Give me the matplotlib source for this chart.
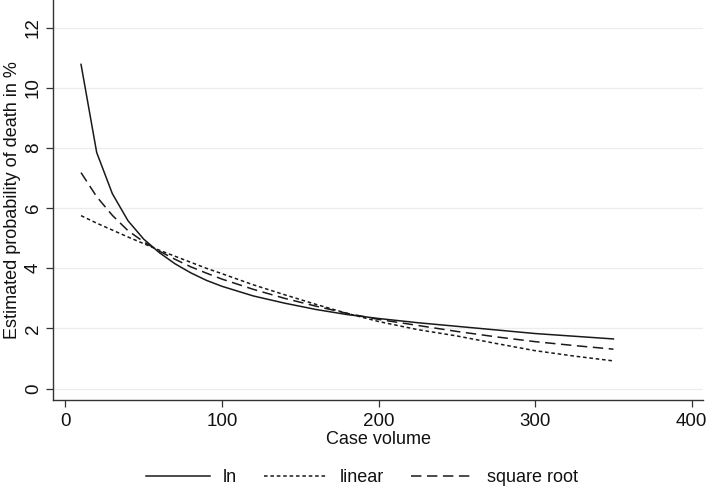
import matplotlib
matplotlib.use("Agg")
import matplotlib.pyplot as plt

# ---- data ----
case_volume = [10, 20, 30, 40, 50, 60, 70, 80, 90, 100, 120, 140, 160, 180,
               200, 225, 250, 275, 300, 325, 350]
p_ln = [10.78, 7.85, 6.48, 5.58, 4.97, 4.52, 4.15, 3.85, 3.60, 3.40, 3.08,
        2.84, 2.63, 2.46, 2.33, 2.19, 2.07, 1.95, 1.83, 1.74, 1.65]
p_linear = [5.75, 5.50, 5.27, 5.04, 4.82, 4.60, 4.40, 4.20, 4.00, 3.82, 3.45,
            3.12, 2.80, 2.50, 2.23, 1.96, 1.75, 1.50, 1.26, 1.08, 0.92]
p_sqrt = [7.18, 6.38, 5.76, 5.25, 4.88, 4.57, 4.30, 4.05, 3.84, 3.64, 3.30,
          3.00, 2.74, 2.50, 2.30, 2.10, 1.90, 1.72, 1.56, 1.43, 1.31]
series_labels = ["ln", "linear", "square root"]
x_ticks = [0, 100, 200, 300, 400]
y_ticks = [0, 2, 4, 6, 8, 10, 12]

plt.rcParams['font.family'] = ['Liberation Sans', 'DejaVu Sans']
plt.rcParams['lines.scale_dashes'] = False

fig = plt.figure(figsize=(7.09, 4.97), dpi=100)
ax = fig.add_axes([53/709, 1 - 400/497, (703-53)/709, 400/497])

line_col = '#1a1a1a'
lw = 1.1
ax.plot(case_volume, p_ln, color=line_col, lw=lw, linestyle='-', label=series_labels[0])
ax.plot(case_volume, p_linear, color=line_col, lw=lw, linestyle=(0, (2.6, 2.0)), label=series_labels[1])
ax.plot(case_volume, p_sqrt, color=line_col, lw=lw, linestyle=(0, (7.5, 4.0)), label=series_labels[2])

ax.set_xlim(-7.9, 407.2)
ax.set_ylim(-0.38, 12.92)
ax.set_xticks(x_ticks)
ax.set_yticks(y_ticks)
ax.grid(axis='y', color='#ececec', lw=0.9)
ax.set_axisbelow(True)
for s in ['top', 'right']:
    ax.spines[s].set_visible(False)
for s in ['left', 'bottom']:
    ax.spines[s].set_color('#333333')
    ax.spines[s].set_linewidth(1.0)
ax.tick_params(axis='both', direction='out', length=5, width=0.9, color='#333333',
               labelsize=13.5, labelcolor='#111111')
ax.tick_params(axis='x', pad=4)
ax.tick_params(axis='y', pad=3)
for lab in ax.get_yticklabels():
    lab.set_rotation(90)
    lab.set_verticalalignment('center')

ax.set_xlabel("Case volume", fontsize=13, color='#111111', labelpad=1)
ax.set_ylabel("Estimated probability of death in %", fontsize=13, color='#111111', labelpad=3)

leg = fig.legend(loc='center', bbox_to_anchor=(362/709, 1 - 478/497), ncol=3,
                 frameon=False, fontsize=13, handlelength=3.5, columnspacing=1.5,
                 handletextpad=0.7)
for t in leg.get_texts():
    t.set_color('#111111')

fig.savefig("out.png", dpi=100)
